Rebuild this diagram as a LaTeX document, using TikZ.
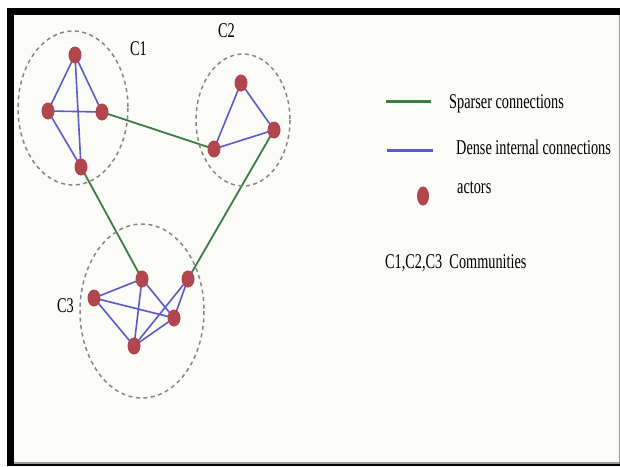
\documentclass[tikz,border=0pt]{standalone}
\usepackage{fontspec}
\setmainfont{Liberation Serif}[FakeStretch=0.68]
\usetikzlibrary{shapes.geometric}
\definecolor{panel}{RGB}{251,251,247}
\definecolor{dotred}{RGB}{178,70,78}
\definecolor{denseblue}{RGB}{92,92,200}
\definecolor{sparsegreen}{RGB}{62,125,70}
\definecolor{dashgray}{RGB}{135,135,135}
\pgfdeclarelayer{bg}
\pgfdeclarelayer{edges}
\pgfsetlayers{bg,edges,main}
\tikzset{
  actor/.style={ellipse, fill=dotred, draw=none, minimum width=13pt, minimum height=17pt, inner sep=0pt},
  dense/.style={draw=denseblue, line width=1.6pt},
  sparse/.style={draw=sparsegreen, line width=1.8pt},
  community/.style={draw=dashgray, line width=1.5pt, dash pattern=on 4pt off 3.5pt},
  lbl/.style={font=\fontsize{21}{24}\selectfont, inner sep=0pt, anchor=base west}
}
\begin{document}
\begin{tikzpicture}[x=1pt,y=-1pt]
\useasboundingbox (0,0) rectangle (620,466);
\begin{pgfonlayer}{bg}
  \fill[white] (0,0) rectangle (620,466);
  \fill[black] (7,8) rectangle (620,466);
  \fill[gray!80] (14,15) rectangle (620,463.5);
  \fill[panel] (14,15) rectangle (618.6,461.8);
\end{pgfonlayer}

% communities
\draw[community] (73,108) ellipse [x radius=55, y radius=77];
\draw[community] (243,120) ellipse [x radius=47, y radius=66];
\draw[community] (142,311) ellipse [x radius=62, y radius=87];

% actors C1
\node[actor] (c1t) at (75,55) {};
\node[actor] (c1l) at (48,111) {};
\node[actor] (c1r) at (102,112) {};
\node[actor] (c1b) at (81,167) {};
% actors C2
\node[actor] (c2t) at (241,83) {};
\node[actor] (c2r) at (274,130) {};
\node[actor] (c2l) at (214,149) {};
% actors C3
\node[actor] (c3a) at (142,279) {};
\node[actor] (c3b) at (188,279) {};
\node[actor] (c3l) at (94,298) {};
\node[actor] (c3m) at (174,318) {};
\node[actor] (c3d) at (134,346) {};

\begin{pgfonlayer}{edges}
  % C1
  \draw[dense] (c1t.center) -- (c1l.center);
  \draw[dense] (c1t.center) -- (c1r.center);
  \draw[dense] (c1t.center) -- (c1b.center);
  \draw[dense] (c1l.center) -- (c1r.center);
  \draw[dense] (c1l.center) -- (c1b.center);
  % C2
  \draw[dense] (c2t.center) -- (c2r.center);
  \draw[dense] (c2t.center) -- (c2l.center);
  \draw[dense] (c2l.center) -- (c2r.center);
  % C3
  \draw[dense] (c3l.center) -- (c3a.center);
  \draw[dense] (c3l.center) -- (c3m.center);
  \draw[dense] (c3l.center) -- (c3d.center);
  \draw[dense] (c3a.center) -- (c3d.center);
  \draw[dense] (c3a.center) -- (c3m.center);
  \draw[dense] (c3b.center) -- (c3d.center);
  \draw[dense] (c3b.center) -- (c3m.center);
  \draw[dense] (c3d.center) -- (c3m.center);
  % sparse
  \draw[sparse] (c1r.center) -- (c2l.center);
  \draw[sparse] (c1b.center) -- (c3a.center);
  \draw[sparse] (c2r.center) -- (c3b.center);
\end{pgfonlayer}

% community labels
\node[lbl] (lc1) at (130,55) {C1};
\node[lbl] (lc2) at (218,37) {C2};
\node[lbl] (lc3) at (57,312) {C3};

% legend
\draw[draw=sparsegreen, line width=3pt] (386,101) -- (431,101);
\draw[draw=denseblue, line width=3pt] (387,150) -- (433,150);
\node[actor, minimum width=12pt, minimum height=19pt] (legdot) at (423,196) {};
\node[lbl] (t1) at (449,108) {Sparser connections};
\node[lbl] (t2) at (456,154) {Dense internal connections};
\node[lbl] (t3) at (457,193) {actors};
\node[lbl] (t4) at (385,268) {C1,C2,C3\ \ Communities};
\end{tikzpicture}
\end{document}
